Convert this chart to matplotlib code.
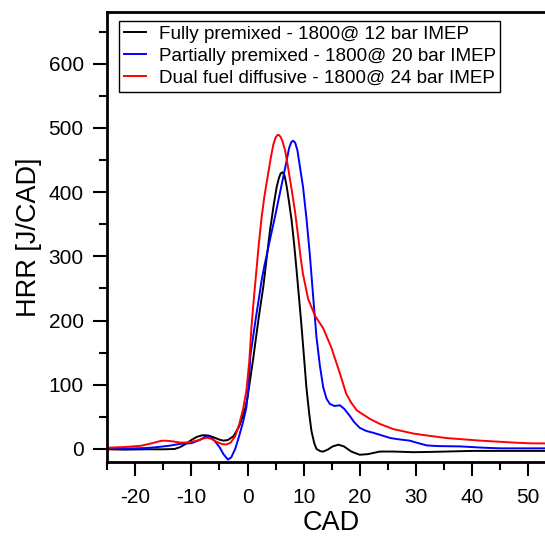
import matplotlib
matplotlib.use('Agg')
from matplotlib import pyplot as plt
from matplotlib.ticker import MultipleLocator

plt.rcParams['font.family'] = ['Liberation Sans', 'DejaVu Sans']
plt.rcParams['axes.unicode_minus'] = False

# Fully premixed - 1800@ 12 bar IMEP
cad_full = [-25, -22, -18, -15, -13, -12, -11, -10, -9, -8, -7, -6, -5, -4.3, -3.5, -2.5,
            -1.5, -0.5, 0, 1, 2, 2.8, 4, 4.7, 5.2, 5.6, 5.9, 6.25, 6.6, 6.96, 7.4, 7.86,
            8.3, 8.75, 9.2, 9.64, 10.1, 10.5, 11, 11.4, 11.9, 12.3, 13, 13.5, 14.3, 15.2,
            16.2, 17.2, 18.5, 20, 21.5, 23.6, 26, 29.6, 33, 40, 47, 55]
hrr_full = [-0.5, -1, -0.5, -0.5, 0, 3, 8, 14, 19, 21.5, 21, 18, 14.5, 13, 14, 20,
            35, 60, 80, 140, 205, 252, 340, 382, 408, 422, 429, 431, 426, 410, 385, 356,
            320, 278, 234, 190, 140, 96, 55, 28, 9, 0, -3.5, -4, -1, 4,
            6.7, 4, -4, -9, -8, -4, -4, -5, -4.5, -3, -3, -3]

# Partially premixed - 1800@ 20 bar IMEP
cad_part = [-25, -22, -18, -16, -14, -12, -10, -8.5, -7.6, -6.8, -6, -5, -4.3, -3.5, -2.9,
            -2.2, -1.5, -0.8, -0.2, 0.2, 0.5, 1, 1.5, 2, 2.5, 3, 4, 5, 6, 7, 7.4, 7.8, 8.15,
            8.5, 8.9, 9.3, 9.9, 10.5, 11.1, 11.7, 12.3, 12.9, 13.5, 14.1, 14.7, 15.5, 16.5,
            17.3, 18.2, 19, 20, 21.2, 22.5, 24, 25.5, 27, 28.9, 30.5, 32, 34, 38, 42, 45, 55]
hrr_part = [0, 0.5, 1.5, 3, 5, 8, 9, 14, 19, 19, 14, 3, -8, -16.5, -13,
            0, 20, 42, 65, 100, 145, 175, 205, 233, 262, 285, 326, 366, 408, 450, 468, 478, 480,
            477, 465, 442, 408, 360, 304, 238, 174, 130, 96, 78, 70, 67, 68,
            62, 52, 42, 33, 28, 25, 21, 17, 15, 13, 9, 5.5, 4.5, 4, 2, 1, 1]

# Dual fuel diffusive - 1800@ 24 bar IMEP
cad_dual = [-25, -22, -19, -17, -15.5, -14.7, -13.5, -12, -11, -10, -9, -8, -7.3, -6.5,
            -5.5, -4.5, -3.7, -3, -2.2, -1.5, -0.8, -0.2, 0.3, 0.7, 1, 1.5, 2, 2.5, 3, 3.7,
            4.2, 4.6, 5.0, 5.35, 5.6, 5.9, 6.2, 6.7, 7.2, 7.85, 8.5, 9.04, 9.5, 9.9, 10.8,
            12, 13.5, 14.95, 16.5, 17.6, 18.5, 19.5, 21.8, 23.6, 26, 29.6, 32, 35.5, 41.5,
            47.4, 50.4, 55]
hrr_dual = [2, 3, 5, 9, 12.5, 13, 12, 10, 10, 11, 13, 16, 17.5, 16,
            11, 7.5, 7, 10, 20, 38, 62, 91, 135, 190, 222, 270, 318, 360, 393, 430,
            456, 474, 485, 489, 489, 486, 480, 465, 440, 405, 368, 330, 296, 272, 234,
            208, 188, 158, 117, 86, 72, 60, 47, 39, 31, 24, 21, 17, 13,
            10, 8.8, 8.5]

fig = plt.figure(figsize=(5.45, 5.37), dpi=100)
ax = fig.add_axes([0.197, 0.140, 0.823, 0.837])

ax.plot(cad_full, hrr_full, color='black', lw=1.4, label="Fully premixed - 1800@ 12 bar IMEP")
ax.plot(cad_part, hrr_part, color='blue', lw=1.4, label="Partially premixed - 1800@ 20 bar IMEP")
ax.plot(cad_dual, hrr_dual, color='red', lw=1.4, label="Dual fuel diffusive - 1800@ 24 bar IMEP")

ax.set_xlim(-25, 55)
ax.set_ylim(-20, 680)
ax.xaxis.set_major_locator(MultipleLocator(10))
ax.xaxis.set_minor_locator(MultipleLocator(5))
ax.yaxis.set_minor_locator(MultipleLocator(50))
ax.set_yticks(range(0, 700, 100))
ax.tick_params(which='major', direction='out', length=10, width=1.5, labelsize=15, pad=7)
ax.tick_params(which='minor', direction='out', length=6, width=1.5)
ax.tick_params(axis='x', which='major', pad=9)
for s in ax.spines.values():
    s.set_linewidth(2)
ax.spines['right'].set_visible(False)

ax.set_xlabel("CAD", fontsize=19.5, labelpad=2)
ax.set_ylabel("HRR [J/CAD]", fontsize=19.5, labelpad=5)

leg = ax.legend(loc='upper left', bbox_to_anchor=(0.2183, 0.9609), bbox_transform=fig.transFigure,
                fontsize=13.6, frameon=True, fancybox=False, framealpha=1, edgecolor='black',
                handlelength=1.2, handletextpad=0.65, borderpad=0.25, labelspacing=0.25,
                borderaxespad=0)
leg.get_frame().set_linewidth(1)

plt.savefig("out.png", dpi=100)
